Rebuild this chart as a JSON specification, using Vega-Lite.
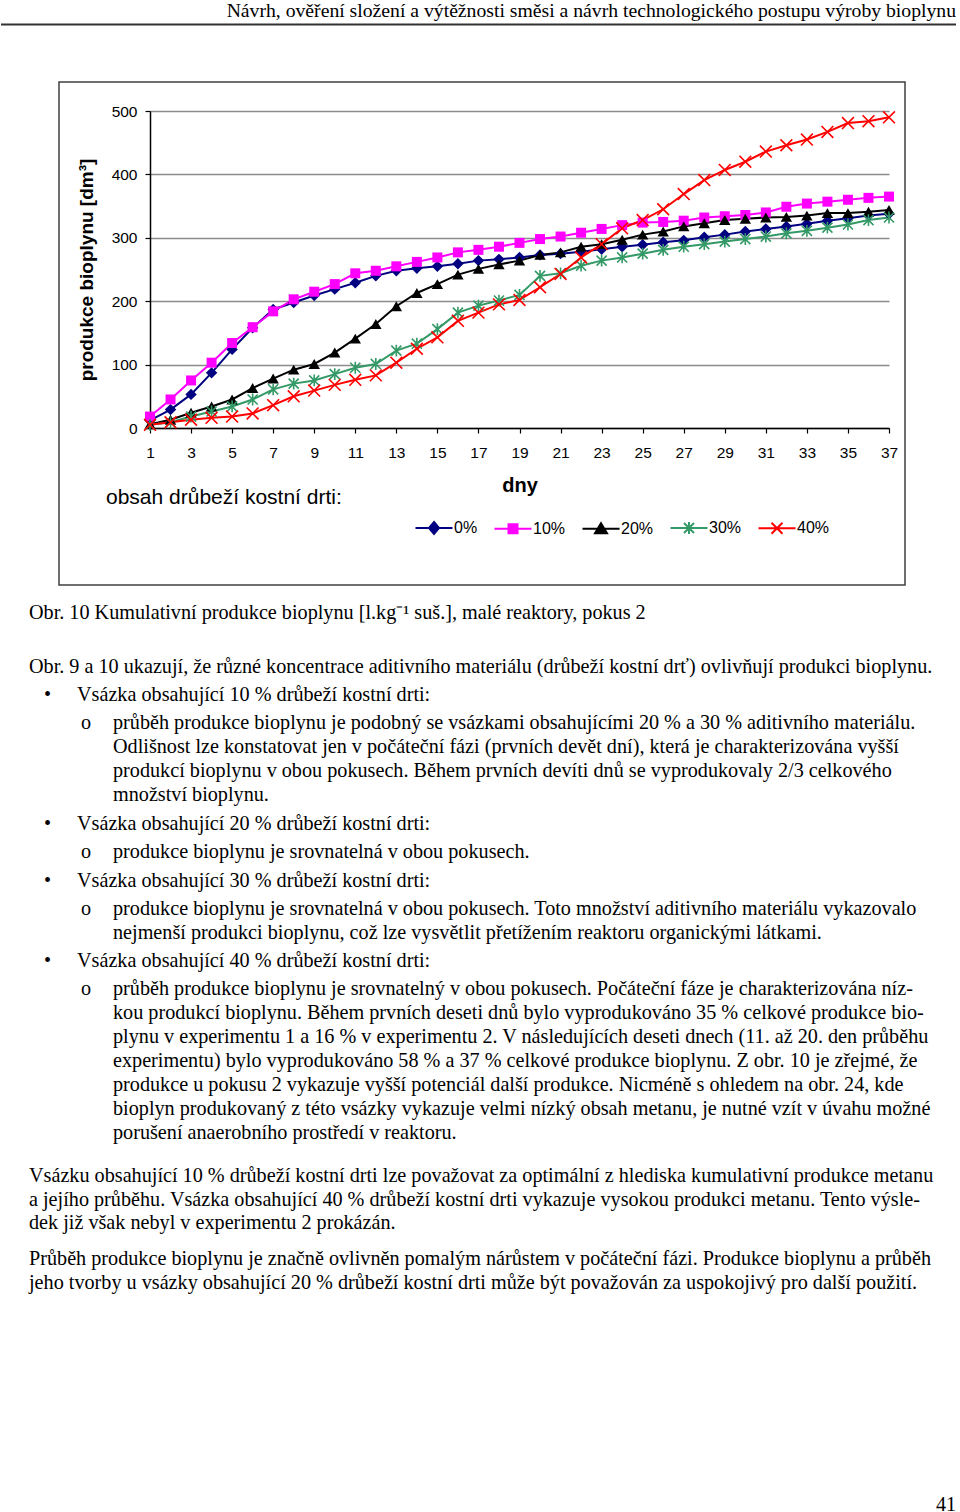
{
  "$schema": "https://vega.github.io/schema/vega-lite/v6.json",
  "padding": 0,
  "background": "white",
  "bounds": "full",
  "spacing": 0,
  "config": {"view": {"stroke": null}},
  "resolve": {"scale": {"x": "independent", "y": "independent", "color": "independent", "shape": "independent"}},
  "datasets": {
    "biogas": [
      {"day": 1, "0%": 12, "10%": 18, "20%": 6, "30%": 5, "40%": 5},
      {"day": 2, "0%": 29, "10%": 45, "20%": 13, "30%": 9, "40%": 9},
      {"day": 3, "0%": 53, "10%": 75, "20%": 24, "30%": 18, "40%": 13},
      {"day": 4, "0%": 87, "10%": 103, "20%": 34, "30%": 26, "40%": 16},
      {"day": 5, "0%": 124, "10%": 134, "20%": 45, "30%": 34, "40%": 18},
      {"day": 6, "0%": 158, "10%": 159, "20%": 63, "30%": 45, "40%": 23},
      {"day": 7, "0%": 187, "10%": 184, "20%": 78, "30%": 61, "40%": 36},
      {"day": 8, "0%": 198, "10%": 203, "20%": 92, "30%": 70, "40%": 50},
      {"day": 9, "0%": 209, "10%": 215, "20%": 101, "30%": 75, "40%": 59},
      {"day": 10, "0%": 219, "10%": 227, "20%": 119, "30%": 85, "40%": 68},
      {"day": 11, "0%": 229, "10%": 244, "20%": 141, "30%": 95, "40%": 76},
      {"day": 12, "0%": 240, "10%": 248, "20%": 164, "30%": 101, "40%": 83},
      {"day": 13, "0%": 248, "10%": 255, "20%": 192, "30%": 122, "40%": 103},
      {"day": 14, "0%": 252, "10%": 262, "20%": 213, "30%": 133, "40%": 125},
      {"day": 15, "0%": 255, "10%": 269, "20%": 227, "30%": 156, "40%": 143},
      {"day": 16, "0%": 259, "10%": 277, "20%": 242, "30%": 182, "40%": 169},
      {"day": 17, "0%": 264, "10%": 281, "20%": 251, "30%": 193, "40%": 182},
      {"day": 18, "0%": 266, "10%": 286, "20%": 258, "30%": 201, "40%": 195},
      {"day": 19, "0%": 269, "10%": 292, "20%": 264, "30%": 210, "40%": 202},
      {"day": 20, "0%": 273, "10%": 298, "20%": 273, "30%": 240, "40%": 222},
      {"day": 21, "0%": 275, "10%": 302, "20%": 277, "30%": 244, "40%": 243},
      {"day": 22, "0%": 278, "10%": 308, "20%": 286, "30%": 256, "40%": 269},
      {"day": 23, "0%": 282, "10%": 314, "20%": 290, "30%": 264, "40%": 290},
      {"day": 24, "0%": 286, "10%": 320, "20%": 297, "30%": 269, "40%": 315},
      {"day": 25, "0%": 289, "10%": 324, "20%": 305, "30%": 275, "40%": 328},
      {"day": 26, "0%": 293, "10%": 325, "20%": 310, "30%": 281, "40%": 345},
      {"day": 27, "0%": 296, "10%": 327, "20%": 318, "30%": 286, "40%": 369},
      {"day": 28, "0%": 301, "10%": 332, "20%": 323, "30%": 290, "40%": 391},
      {"day": 29, "0%": 305, "10%": 334, "20%": 328, "30%": 294, "40%": 407},
      {"day": 30, "0%": 310, "10%": 336, "20%": 330, "30%": 298, "40%": 420},
      {"day": 31, "0%": 314, "10%": 340, "20%": 332, "30%": 302, "40%": 436},
      {"day": 32, "0%": 318, "10%": 349, "20%": 333, "30%": 307, "40%": 446},
      {"day": 33, "0%": 322, "10%": 354, "20%": 335, "30%": 311, "40%": 455},
      {"day": 34, "0%": 327, "10%": 357, "20%": 339, "30%": 316, "40%": 467},
      {"day": 35, "0%": 331, "10%": 360, "20%": 339, "30%": 321, "40%": 481},
      {"day": 36, "0%": 335, "10%": 363, "20%": 341, "30%": 328, "40%": 484},
      {"day": 37, "0%": 338, "10%": 365, "20%": 344, "30%": 332, "40%": 490}
    ],
    "body": [
      {"line": 0, "indent": 0, "text": "Obr. 10  Kumulativní produkce bioplynu [l.kg⁻¹ suš.], malé reaktory, pokus 2"},
      {"line": 1, "indent": 0, "text": "Obr. 9 a 10 ukazují, že různé koncentrace aditivního materiálu (drůbeží kostní drť) ovlivňují produkci bioplynu."},
      {"line": 2, "indent": 1, "text": "•"},
      {"line": 2, "indent": 2, "text": "Vsázka obsahující 10 % drůbeží kostní drti:"},
      {"line": 3, "indent": 3, "text": "o"},
      {"line": 3, "indent": 4, "text": "průběh produkce bioplynu je podobný se vsázkami obsahujícími 20 % a 30 % aditivního materiálu."},
      {"line": 4, "indent": 4, "text": "Odlišnost lze konstatovat jen v počáteční fázi (prvních devět dní), která je charakterizována vyšší"},
      {"line": 5, "indent": 4, "text": "produkcí bioplynu v obou pokusech. Během prvních devíti dnů se vyprodukovaly 2/3 celkového"},
      {"line": 6, "indent": 4, "text": "množství bioplynu."},
      {"line": 7, "indent": 1, "text": "•"},
      {"line": 7, "indent": 2, "text": "Vsázka obsahující 20 % drůbeží kostní drti:"},
      {"line": 8, "indent": 3, "text": "o"},
      {"line": 8, "indent": 4, "text": "produkce bioplynu je srovnatelná v obou pokusech."},
      {"line": 9, "indent": 1, "text": "•"},
      {"line": 9, "indent": 2, "text": "Vsázka obsahující 30 % drůbeží kostní drti:"},
      {"line": 10, "indent": 3, "text": "o"},
      {"line": 10, "indent": 4, "text": "produkce bioplynu je srovnatelná v obou pokusech. Toto množství aditivního materiálu vykazovalo"},
      {"line": 11, "indent": 4, "text": "nejmenší produkci bioplynu, což lze vysvětlit přetížením reaktoru organickými látkami."},
      {"line": 12, "indent": 1, "text": "•"},
      {"line": 12, "indent": 2, "text": "Vsázka obsahující 40 % drůbeží kostní drti:"},
      {"line": 13, "indent": 3, "text": "o"},
      {"line": 13, "indent": 4, "text": "průběh produkce bioplynu je srovnatelný v obou pokusech. Počáteční fáze je charakterizována níz-"},
      {"line": 14, "indent": 4, "text": "kou produkcí bioplynu. Během prvních deseti dnů bylo vyprodukováno 35 % celkové produkce bio-"},
      {"line": 15, "indent": 4, "text": "plynu v experimentu 1 a 16 % v experimentu 2. V následujících deseti dnech (11. až 20. den průběhu"},
      {"line": 16, "indent": 4, "text": "experimentu) bylo vyprodukováno 58 % a 37 % celkové produkce bioplynu. Z obr. 10 je zřejmé, že"},
      {"line": 17, "indent": 4, "text": "produkce u pokusu 2 vykazuje vyšší potenciál další produkce. Nicméně s ohledem na obr. 24, kde"},
      {"line": 18, "indent": 4, "text": "bioplyn produkovaný z této vsázky vykazuje velmi nízký obsah metanu, je nutné vzít v úvahu možné"},
      {"line": 19, "indent": 4, "text": "porušení anaerobního prostředí v reaktoru."},
      {"line": 20, "indent": 0, "text": "Vsázku obsahující 10 % drůbeží kostní drti lze považovat za optimální z hlediska kumulativní produkce metanu"},
      {"line": 21, "indent": 0, "text": "a jejího průběhu. Vsázka obsahující 40 % drůbeží kostní drti vykazuje vysokou produkci metanu. Tento výsle-"},
      {"line": 22, "indent": 0, "text": "dek již však nebyl v experimentu 2 prokázán."},
      {"line": 23, "indent": 0, "text": "Průběh produkce bioplynu je značně ovlivněn pomalým nárůstem v počáteční fázi. Produkce bioplynu a průběh"},
      {"line": 24, "indent": 0, "text": "jeho tvorby u vsázky obsahující 20 % drůbeží kostní drti může být považován za uspokojivý pro další použití."},
      {"line": 25, "indent": 5, "text": "41"}
    ]
  },
  "vconcat": [
    {
      "width": 955,
      "height": 81,
      "data": {"values": [
        {"kind": "title", "text": "Návrh, ověření složení a výtěžnosti směsi a návrh technologického postupu výroby bioplynu"},
        {"kind": "rule", "text": ""}
      ]},
      "encoding": {
        "y": {"field": "kind", "type": "nominal", "scale": {"type": "point", "domain": ["title", "rule"], "range": [11, 24.5], "padding": 0}, "axis": null}
      },
      "layer": [
        {
          "transform": [{"filter": "datum.kind === 'title'"}],
          "mark": {"type": "text", "align": "right", "baseline": "middle", "font": "Liberation Serif", "fontSize": 19.7, "color": "#000000"},
          "encoding": {"x": {"value": "width"}, "text": {"field": "text"}}
        },
        {
          "transform": [{"filter": "datum.kind === 'rule'"}],
          "mark": {"type": "rule", "color": "#333333", "strokeWidth": 2},
          "encoding": {}
        }
      ]
    },
    {
      "hconcat": [
        {
          "width": 57,
          "height": 503,
          "data": {"values": []},
          "mark": {"type": "text"},
          "encoding": {}
        },
        {
          "width": 846,
          "height": 503,
          "view": {"stroke": "#404040", "strokeWidth": 1.5},
          "data": {"name": "biogas"},
          "transform": [{"fold": ["0%", "10%", "20%", "30%", "40%"], "as": ["series", "value"]}],
          "encoding": {
            "x": {
              "field": "day", "type": "quantitative",
              "scale": {"domain": [1, 37], "range": [91, 830], "nice": false, "zero": false},
              "axis": {
                "values": [1, 3, 5, 7, 9, 11, 13, 15, 17, 19, 21, 23, 25, 27, 29, 31, 33, 35, 37],
                "title": "dny", "offset": -157, "grid": false,
                "domainColor": "#000000", "domainWidth": 1.5,
                "tickColor": "#000000", "tickWidth": 1.2, "tickSize": 5,
                "labelFont": "Liberation Sans", "labelFontSize": 15.5, "labelColor": "#000000", "labelPadding": 12,
                "labelFlush": false, "labelOverlap": false,
                "titleFont": "Liberation Sans", "titleFontSize": 20, "titleFontWeight": "bold", "titleColor": "#000000", "titlePadding": 15
              }
            },
            "y": {
              "field": "value", "type": "quantitative",
              "scale": {"domain": [0, 500], "range": [346, 29], "nice": false, "zero": false},
              "axis": {
                "values": [0, 100, 200, 300, 400, 500],
                "title": "produkce bioplynu [dm³]", "offset": -91,
                "grid": true, "gridColor": "#8c8c8c", "gridWidth": 1.5,
                "domainColor": "#000000", "domainWidth": 1.5,
                "tickColor": "#000000", "tickWidth": 1.2, "tickSize": 5,
                "labelFont": "Liberation Sans", "labelFontSize": 15.5, "labelColor": "#000000", "labelPadding": 8,
                "labelFlush": false, "labelOverlap": false,
                "titleFont": "Liberation Sans", "titleFontSize": 19, "titleFontWeight": "bold", "titleColor": "#000000", "titlePadding": 15
              }
            },
            "color": {
              "field": "series", "type": "nominal",
              "scale": {"domain": ["0%", "10%", "20%", "30%", "40%"], "range": ["#000080", "#ff00ff", "#000000", "#339966", "#ff0000"]}
            }
          },
          "layer": [
            {
              "data": {"values": [{}]},
              "mark": {"type": "rule", "color": "#8c8c8c", "strokeWidth": 1.5},
              "encoding": {"x": {"datum": 37, "type": "quantitative"}, "y": {"datum": 0, "type": "quantitative"}, "y2": {"datum": 500}, "color": {"value": "#8c8c8c"}}
            },
            {
              "mark": {"type": "line", "strokeWidth": 2},
              "encoding": {
                "color": {
                  "field": "series", "type": "nominal",
                  "legend": {
                    "orient": "none", "legendX": 47, "legendY": 438, "direction": "horizontal", "columns": 5,
                    "padding": 0,
                    "title": "obsah drůbeží kostní drti:", "titleOrient": "left", "titleAnchor": "start",
                    "titleFont": "Liberation Sans", "titleFontSize": 21, "titleFontWeight": "normal", "titleColor": "#000000",
                    "titleBaseline": "line-bottom", "titleLineHeight": 44, "titlePadding": 84, "titleLimit": 500,
                    "labelFont": "Liberation Sans", "labelFontSize": 16, "labelColor": "#000000", "labelOffset": 12,
                    "symbolSize": 100, "symbolStrokeWidth": 2, "columnPadding": 12,
                    "encode": {
                      "symbols": {
                        "update": {
                          "shape": {"signal": "datum.value === '0%' ? 'M-3.7,0H3.7M0,-1.2L1,0L0,1.2L-1,0Z' : datum.value === '10%' ? 'M-3.7,0H3.7M-0.9,-0.9H0.9V0.9H-0.9Z' : datum.value === '20%' ? 'M-3.7,0H3.7M0,-1.1L1.2,0.9L-1.2,0.9Z' : datum.value === '30%' ? 'M-3.7,0H3.7M0,-1.2V1.2M-1,-1L1,1M-1,1L1,-1' : 'M-3.7,0H3.7M-1.1,-1.1L1.1,1.1M-1.1,1.1L1.1,-1.1'"},
                          "fill": {"signal": "datum.value === '0%' ? '#000080' : datum.value === '10%' ? '#ff00ff' : datum.value === '20%' ? '#000000' : datum.value === '30%' ? '#339966' : '#ff0000'"},
                          "stroke": {"signal": "datum.value === '0%' ? '#000080' : datum.value === '10%' ? '#ff00ff' : datum.value === '20%' ? '#000000' : datum.value === '30%' ? '#339966' : '#ff0000'"},
                          "strokeWidth": {"value": 2},
                          "opacity": {"value": 1},
                          "fillOpacity": {"value": 1}
                        }
                      }
                    }
                  }
                }
              }
            },
            {
              "transform": [{"filter": "datum.series === '0%'"}],
              "mark": {"type": "point", "shape": "diamond", "filled": true, "size": 130, "opacity": 1}
            },
            {
              "transform": [{"filter": "datum.series === '10%'"}],
              "mark": {"type": "point", "shape": "square", "filled": true, "size": 100, "opacity": 1}
            },
            {
              "transform": [{"filter": "datum.series === '20%'"}],
              "mark": {"type": "point", "shape": "triangle-up", "filled": true, "size": 130, "opacity": 1}
            },
            {
              "transform": [{"filter": "datum.series === '30%'"}],
              "mark": {"type": "point", "shape": "M0,-1V1M-0.85,-0.85L0.85,0.85M-0.85,0.85L0.85,-0.85", "filled": false, "size": 140, "strokeWidth": 1.6, "opacity": 1}
            },
            {
              "transform": [{"filter": "datum.series === '40%'"}],
              "mark": {"type": "point", "shape": "M-1,-1L1,1M-1,1L1,-1", "filled": false, "size": 140, "strokeWidth": 1.6, "opacity": 1}
            }
          ]
        }
      ],
      "spacing": 0,
      "bounds": "full",
      "resolve": {"scale": {"x": "independent", "y": "independent", "color": "independent", "shape": "independent"}}
    },
    {
      "width": 960,
      "height": 925,
      "data": {"name": "body"},
      "mark": {"type": "text", "align": "left", "baseline": "middle", "font": "Liberation Serif", "fontSize": 20.2, "color": "#000000"},
      "encoding": {
        "x": {"field": "indent", "type": "quantitative", "scale": {"domain": [0, 1, 2, 3, 4, 5], "range": [28, 43, 76, 80, 112, 935], "nice": false, "zero": false}, "axis": null},
        "y": {"field": "line", "type": "quantitative", "scale": {"domain": [0, 1, 2, 3, 4, 5, 6, 7, 8, 9, 10, 11, 12, 13, 14, 15, 16, 17, 18, 19, 20, 21, 22, 23, 24, 25], "range": [27, 81, 109, 137, 161, 185, 209, 238, 266, 295, 323, 347, 375, 403, 427, 451, 475, 499, 523, 547, 590, 614, 637, 673, 697, 919], "nice": false, "zero": false}, "axis": null},
        "text": {"field": "text"}
      }
    }
  ]
}
